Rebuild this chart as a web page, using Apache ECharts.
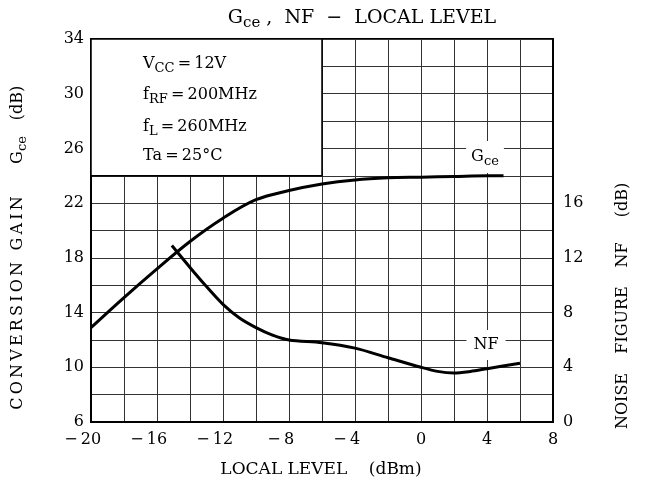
<!DOCTYPE html>
<html>
<head>
<meta charset="utf-8">
<script src="https://cdn.jsdelivr.net/npm/echarts@6/dist/echarts.min.js"></script>
<style>html,body{margin:0;padding:0;background:#fff}#c{width:647px;height:488px}</style>
</head>
<body>
<div id="c"></div>
<script>
// Data
const gceX = [-20, -18, -16, -14, -12, -10, -8, -6, -4, -2, 0, 2, 4, 5];
const gceY = [12.9, 15.1, 17.2, 19.2, 20.9, 22.25, 22.92, 23.4, 23.7, 23.85, 23.9, 23.95, 24.0, 24.0];
const nfX = [-15.1, -14, -13, -12, -11, -10, -9, -8, -6, -4, -2, 0, 1, 2, 3, 4, 6];
const nfY = [12.9, 11.3, 9.9, 8.6, 7.6, 6.9, 6.35, 6.0, 5.8, 5.4, 4.7, 4.0, 3.7, 3.58, 3.7, 3.9, 4.3];
const xTicks = [-20, -16, -12, -8, -4, 0, 4, 8];
const gceTicks = [6, 10, 14, 18, 22, 26, 30, 34];
const nfTicks = [0, 4, 8, 12, 16];
const boxRange = [[-20, 34], [-6, 24]];

const FONT = '"DejaVu Serif", serif';
const chart = echarts.init(document.getElementById('c'), null, {renderer: 'canvas'});
const sub = {fontFamily: FONT, fontSize: 13, color: '#000', padding: [9, 0, 0, 0]};
const subT = {fontFamily: FONT, fontSize: 15, color: '#000', padding: [10, 0, 0, 0]};
const main16 = {fontFamily: FONT, fontSize: 16, color: '#000'};
const main20 = {fontFamily: FONT, fontSize: 19, color: '#000'};
const nameStyle = {fontFamily: FONT, fontSize: 16, color: '#000'};
const spread = s => s.split('').join('\u2009');

function txt(x, y, text, rich, opts) {
  return {
    type: 'text', x: x, y: y, z: 100,
    style: Object.assign({text: text, rich: rich, font: '16px ' + FONT, fill: '#000',
      align: 'center', verticalAlign: 'middle', textAlign: 'center', textVerticalAlign: 'middle'}, opts || {})
  };
}
function vtxt(x, y, text, rich) {
  return Object.assign(txt(x, y, text, rich), {rotation: Math.PI / 2});
}

const tickFont = {fontFamily: FONT, fontSize: 16, color: '#000'};
const option = {
  animation: false,
  backgroundColor: '#fff',
  grid: {left: 91, right: 94, top: 39, bottom: 66, show: true, borderColor: '#000', borderWidth: 2, backgroundColor: 'transparent'},
  xAxis: {
    type: 'value', min: -20, max: 8, interval: 2,
    axisLine: {show: true, onZero: false, lineStyle: {color: '#000', width: 2}},
    axisTick: {show: false},
    splitLine: {show: true, lineStyle: {color: '#333', width: 1}},
    axisLabel: {margin: 10, color: '#000', fontFamily: FONT, fontSize: 16,
      rich: {m: tickFont, h: Object.assign({}, tickFont, {color: 'rgba(0,0,0,0)'})},
      formatter: v => xTicks.indexOf(v) < 0 ? '' :
        (v < 0 ? '{m|\u2212\u2009' + Math.abs(v) + '}{h|\u2212\u2009}' : '{m|' + v + '}')}
  },
  yAxis: [{
    type: 'value', min: 6, max: 34, interval: 2, position: 'left',
    axisLine: {show: true, onZero: false, lineStyle: {color: '#000', width: 2}},
    axisTick: {show: false},
    splitLine: {show: true, lineStyle: {color: '#333', width: 1}},
    axisLabel: {margin: 7, color: '#000', fontFamily: FONT, fontSize: 16,
      formatter: v => gceTicks.indexOf(v) >= 0 ? String(v) : ''}
  }, {
    type: 'value', min: 0, max: 28, interval: 2, position: 'right',
    axisLine: {show: true, onZero: false, lineStyle: {color: '#000', width: 2}},
    axisTick: {show: false},
    splitLine: {show: false},
    axisLabel: {margin: 10, color: '#000', fontFamily: FONT, fontSize: 16,
      formatter: v => nfTicks.indexOf(v) >= 0 ? String(v) : ''}
  }],
  series: [{
    name: 'Gce', type: 'line', yAxisIndex: 0, smooth: 0.35, symbol: 'none',
    lineStyle: {color: '#000', width: 3},
    data: gceX.map((x, i) => [x, gceY[i]]),
    markArea: {
      silent: true,
      itemStyle: {color: '#fff', borderColor: '#000', borderWidth: 1.5},
      data: [[{coord: boxRange[0]}, {coord: boxRange[1]}]]
    },
    z: 5
  }, {
    name: 'NF', type: 'line', yAxisIndex: 1, smooth: 0.3, symbol: 'none',
    lineStyle: {color: '#000', width: 3},
    data: nfX.map((x, i) => [x, nfY[i]]),
    z: 5
  }],
  graphic: [
    txt(362, 18, '{m|G}{s|ce}{m| ,  NF  \u2212  LOCAL LEVEL}', {m: main20, s: subT}),
    txt(143, 64, '{m|V}{s|CC}{m|\u2009=\u200912V}', {m: main16, s: sub}, {align: 'left', textAlign: 'left'}),
    txt(143, 95, '{m|f}{s|RF}{m|\u2009=\u2009200MHz}', {m: main16, s: sub}, {align: 'left', textAlign: 'left'}),
    txt(143, 127, '{m|f}{s|L}{m|\u2009=\u2009260MHz}', {m: main16, s: sub}, {align: 'left', textAlign: 'left'}),
    txt(143, 156, '{m|Ta\u2009=\u200925\u00b0C}', {m: main16, s: sub}, {align: 'left', textAlign: 'left'}),
    txt(485, 157, '{m|G}{s|ce}', {m: main16, s: sub}, {backgroundColor: '#fff', padding: [5, 5, 5, 5]}),
    txt(486, 345, '{m|NF}', {m: main16, s: sub}, {backgroundColor: '#fff', padding: [7, 7, 7, 7]}),
    txt(321, 470, '{m|LOCAL LEVEL    (dBm)}', {m: {fontFamily: FONT, fontSize: 17, color: '#000'}}),
    vtxt(18, 303, '{m|' + spread('CONVERSION GAIN') + '}', {m: nameStyle}),
    vtxt(18, 150, '{m|G}{s|ce}', {m: nameStyle, s: sub}),
    vtxt(18, 103, '{m|(dB)}', {m: nameStyle}),
    vtxt(623, 200, '{m|(dB)}', {m: nameStyle}),
    vtxt(623, 255, '{m|NF}', {m: nameStyle}),
    vtxt(623, 320, '{m|FIGURE}', {m: nameStyle}),
    vtxt(623, 401, '{m|NOISE}', {m: nameStyle})
  ]
};
chart.setOption(option);
</script>
</body>
</html>
